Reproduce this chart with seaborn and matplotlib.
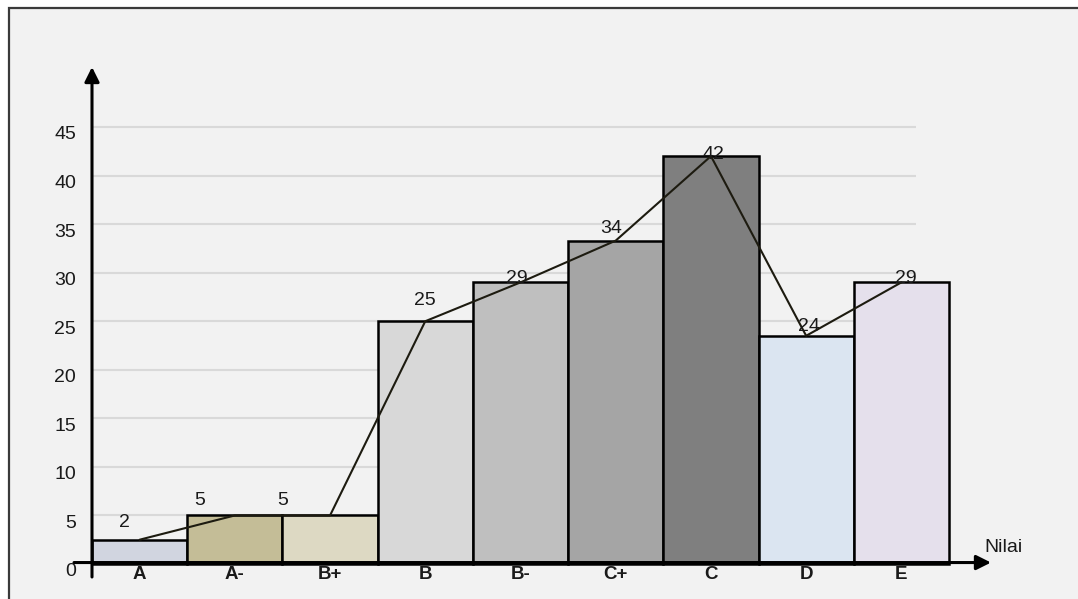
import numpy as np
import pandas as pd
import matplotlib
matplotlib.use("Agg")
import matplotlib.pyplot as plt
from matplotlib.patches import Rectangle
from matplotlib.transforms import ScaledTranslation
import seaborn as sns

# ---- data ----
grades = ["A", "A-", "B+", "B", "B-", "C+", "C", "D", "E"]
heights = [2.5, 5, 5, 25, 29, 33.3, 42, 23.5, 29]
value_labels = ["2", "5", "5", "25", "29", "34", "42", "24", "29"]
y_ticks = [0, 5, 10, 15, 20, 25, 30, 35, 40, 45]

# ---- style ----
bar_colors = ["#d1d5e0", "#c4bd97", "#ddd9c3", "#d8d8d8", "#bfbfbf",
              "#a5a5a5", "#7f7f7f", "#dbe5f1", "#e5e0ec"]
label_offsets_px = [(-15, 17), (-35, 15), (-47, 15), (0, 21), (-4, 4),
                    (-5, 12), (2, 2), (3, 9), (4, 4)]

sns.set_theme(style="white")
plt.rcParams["font.family"] = ["Liberation Sans", "DejaVu Sans"]

W, H = 1078, 599
fig = plt.figure(figsize=(W / 100, H / 100), dpi=100)
fig.patch.set_facecolor("white")

# outer frame
fig.patches.append(Rectangle((9 / W, -0.05), 1.2, (H - 8) / H + 0.05,
                             transform=fig.transFigure, facecolor="#f2f2f2",
                             edgecolor="#3a3a3a", linewidth=1.6, zorder=-10))

ax_left, ax_right = 92, 949
y0_px, y45_px = 564, 127
ax = fig.add_axes([ax_left / W, (H - y0_px) / H,
                   (ax_right - ax_left) / W, (y0_px - y45_px) / H])
ax.set_facecolor("none")
ax.set_zorder(5)

df = pd.DataFrame({"grade": grades, "value": heights})
sns.barplot(data=df, x="grade", y="value", hue="grade", palette=bar_colors,
            width=1.0, saturation=1, edgecolor="black", linewidth=1.8,
            legend=False, ax=ax, zorder=2)
for p in ax.patches:
    p.set_clip_on(False)

ax.set_xlim(-0.5, 8.5)
ax.set_ylim(0, 45)

# gridlines (ending at ~916 px)
px_per_cat = (ax_right - ax_left) / 9
grid_end = (916 - ax_left) / px_per_cat - 0.5
ax.hlines(y_ticks[1:], -0.5, grid_end, colors="#d9d9d9", linewidth=1.5,
          zorder=0, clip_on=False)

# polygon line
xs = np.arange(len(grades))
sns.lineplot(x=xs, y=heights, color="#1d1b10", linewidth=1.5, ax=ax, zorder=4)

# value labels
for i, (v, t) in enumerate(zip(heights, value_labels)):
    dx, dy = label_offsets_px[i]
    ax.annotate(t, xy=(i, v), xytext=(dx * 0.72, dy * 0.72), textcoords="offset points",
                ha="center", va="center", fontsize=14, color="#1a1a1a", zorder=5)

# axes arrows
px_per_unit = (y0_px - y45_px) / 45
ax.annotate("", xy=(-0.5, (y0_px - 67) / px_per_unit),
            xytext=(-0.5, (y0_px - 577) / px_per_unit),
            arrowprops=dict(arrowstyle="-|>", lw=2.2, color="black",
                            mutation_scale=22, shrinkA=0, shrinkB=0),
            annotation_clip=False, zorder=6)
ax.annotate("", xy=((991 - ax_left) / px_per_cat - 0.5, 0.15),
            xytext=((74 - ax_left) / px_per_cat - 0.5, 0.15),
            arrowprops=dict(arrowstyle="-|>", lw=2.2, color="black",
                            mutation_scale=22, shrinkA=0, shrinkB=0),
            annotation_clip=False, zorder=6)
ax.text((1003 - ax_left) / px_per_cat - 0.5, (y0_px - 548) / px_per_unit, "Nilai",
        ha="center", va="center", fontsize=14, color="#1a1a1a", clip_on=False)

for s in ax.spines.values():
    s.set_visible(False)

ax.set_yticks(y_ticks)
ax.set_yticklabels([str(t) for t in y_ticks], fontsize=14, color="#1a1a1a")
ax.tick_params(axis="y", length=0, pad=11.5)
for lab in ax.get_yticklabels():
    lab.set_transform(lab.get_transform() + ScaledTranslation(0, -6 / 100, fig.dpi_scale_trans))
ax.set_xticks(xs)
ax.set_xticklabels(grades, fontsize=13.5, fontweight="bold", color="#1a1a1a")
ax.tick_params(axis="x", length=0, pad=1.5)
ax.set_xlabel("")
ax.set_ylabel("")

fig.savefig("out.png", dpi=100)
